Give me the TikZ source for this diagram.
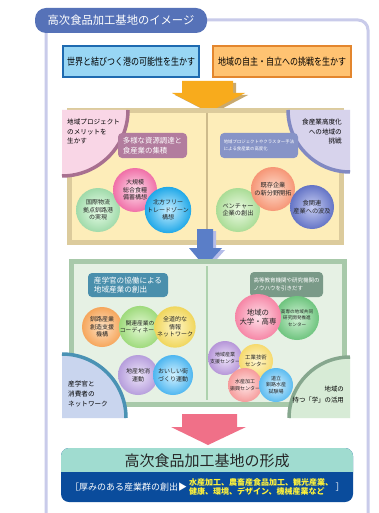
\documentclass[tikz,border=0pt]{standalone}
\usepackage{fontspec}
\setmainfont{Noto Sans CJK JP}
\usetikzlibrary{shadings}
\definecolor{framec}{HTML}{C9CBEA}
\definecolor{tabblue}{HTML}{5672B8}
\definecolor{boxblue}{HTML}{1E6AB0}
\definecolor{lightblue}{HTML}{98D6F4}
\definecolor{boxor}{HTML}{E3862E}
\definecolor{lightor}{HTML}{FFC372}
\definecolor{arrowor}{HTML}{F8AB1C}
\definecolor{arrowsh}{HTML}{C9A96E}
\definecolor{tanc}{HTML}{DCCB9C}
\definecolor{creamc}{HTML}{FDEDB9}
\definecolor{divtan}{HTML}{CDBB8C}
\definecolor{pinkq}{HTML}{F9D6E6}
\definecolor{mauve}{HTML}{A87090}
\definecolor{mauvelbl}{HTML}{B27C9E}
\definecolor{lavq}{HTML}{D7D3EC}
\definecolor{lavline}{HTML}{8189C2}
\definecolor{bluegrey}{HTML}{8794C7}
\definecolor{arrowbl}{HTML}{5A7EC8}
\definecolor{arrowblsh}{HTML}{B4BCE8}
\definecolor{greenborder}{HTML}{A8C9AA}
\definecolor{greenfill}{HTML}{E6F1E4}
\definecolor{divgreen}{HTML}{AED2AE}
\definecolor{tealbl}{HTML}{4A8FAC}
\definecolor{greygreen}{HTML}{7A9A88}
\definecolor{blueq}{HTML}{C9D5EE}
\definecolor{blueqline}{HTML}{4A92B4}
\definecolor{greenq}{HTML}{D7EBD6}
\definecolor{greenqline}{HTML}{86A78E}
\definecolor{arrowpk}{HTML}{F07088}
\definecolor{tealtop}{HTML}{A0DCD0}
\definecolor{darkblue}{HTML}{0A4C9C}
\definecolor{yellowtxt}{HTML}{FFF23A}
\tikzset{
  bub/.style={circle, inner sep=0pt, minimum size=#1, align=center, text=black!85},
  bub/.default=44pt,
  lbl/.style={rounded corners=4pt, text=white, align=left, inner sep=0pt},
  corner/.style={inner sep=0pt, text=black},
  blockarrow/.style={draw=none}
}
\begin{document}
\begin{tikzpicture}[x=1pt,y=-1pt]
\useasboundingbox (0,0) rectangle (378,513);
\fill[white] (0,0) rectangle (378,513);
% outer frame
\draw[framec, line width=3pt, rounded corners=10pt] (46,20) rectangle (368,545);
% title tab
\node[fill=tabblue, rounded corners=11pt, minimum width=172pt, minimum height=25pt, text=white, font=\fontsize{11.3}{13}\selectfont] (tab) at (121,20.5) {高次食品加工基地のイメージ};
% top boxes
\node[draw=boxblue, line width=2pt, fill=lightblue, minimum width=136pt, minimum height=31pt, inner sep=0pt] (b1) at (131,61.5) {\scalebox{0.8}[1]{\fontsize{10}{12}\selectfont 世界と結びつく港の可能性を生かす}};
\node[draw=boxor, line width=2pt, fill=lightor, minimum width=138pt, minimum height=31pt, inner sep=0pt] (b2) at (282,61.5) {\scalebox{0.8}[1]{\fontsize{10}{12}\selectfont 地域の自主・自立への挑戦を生かす}};
% orange arrow
\fill[arrowsh] (185,83) -- (236,83) -- (236,95) -- (248,95) -- (212,114) -- (175,95) -- (185,95) -- cycle;
\fill[arrowor] (182,81) -- (233,81) -- (233,93) -- (245,93) -- (209,112) -- (172,93) -- (182,93) -- cycle;
% top panel
\node[draw=tanc, line width=5pt, fill=creamc, minimum width=272pt, minimum height=132pt, inner sep=0pt] (p1) at (205.75,176.75) {};
\draw[divtan, line width=1.2pt] (207,113) -- (207,241);
% pink quarter
\fill[pinkq] (62,110) -- (128,110) arc[start angle=0, end angle=90, radius=66] -- cycle;
\draw[mauve, line width=3.5pt] (128,110) arc[start angle=0, end angle=90, radius=66];
\node[corner, align=left, anchor=north west, font=\fontsize{6.6}{9.5}\selectfont] (c1) at (67,119) {地域プロジェクト\\のメリットを\\生かす};
% lavender quarter
\fill[lavq] (288,110) arc[start angle=180, end angle=90, radius=62] -- (350,110) -- cycle;
\draw[lavline, line width=3.5pt] (288,110) arc[start angle=180, end angle=90, radius=62];
\node[corner, align=right, anchor=north east, font=\fontsize{6.6}{9.5}\selectfont] (c2) at (342,119) {食産業高度化\\への地域の\\挑戦};
% labels top
\node[lbl, fill=mauvelbl, minimum width=69pt, minimum height=25pt, font=\fontsize{7.4}{9.5}\selectfont] (l1) at (152.5,145.5) {多様な資源調達と\\食産業の集積};
\node[lbl, fill=bluegrey, minimum width=78pt, minimum height=25pt, font=\fontsize{4.4}{6.5}\selectfont] (l2) at (259,145.5) {地域プロジェクトやクラスター手法\\による食産業の高度化};
% circles top-left
\node[bub=44pt, shade, inner color=green!8!white, outer color={rgb,255:red,160;green,218;blue,170}, font=\fontsize{6}{7.5}\selectfont] (t1) at (98,210) {国際物流\\拠点釧路港\\の実現};
\node[bub=44pt, shade, inner color={rgb,255:red,253;green,224;blue,236}, outer color={rgb,255:red,240;green,112;blue,168}, font=\fontsize{6}{7.5}\selectfont] (t2) at (135,190) {大規模\\総合食糧\\備蓄構想};
\node[bub=44pt, shade, inner color={rgb,255:red,200;green,238;blue,255}, outer color={rgb,255:red,32;green,168;blue,232}, font=\fontsize{6}{7.5}\selectfont] (t3) at (168,210) {北方フリー\\トレードゾーン\\構想};
% circles top-right
\node[bub=44pt, shade, inner color={rgb,255:red,236;green,250;blue,228}, outer color={rgb,255:red,170;green,220;blue,150}, font=\fontsize{6.2}{7.5}\selectfont] (t4) at (238,210) {ベンチャー\\企業の創出};
\node[bub=44pt, shade, inner color={rgb,255:red,253;green,220;blue,204}, outer color={rgb,255:red,246;green,150;blue,118}, font=\fontsize{6.2}{7.5}\selectfont] (t5) at (273,189) {既存企業\\の新分野開拓};
\node[bub=44pt, shade, inner color={rgb,255:red,200;green,206;blue,242}, outer color={rgb,255:red,100;green,116;blue,198}, font=\fontsize{6.2}{7.5}\selectfont] (t6) at (312,207) {食関連\\産業への波及};
% blue arrow
\fill[arrowblsh] (200,231) -- (216,231) -- (216,250) -- (225,250) -- (208,269) -- (192,250) -- (200,250) -- cycle;
\fill[arrowbl] (197,229) -- (213,229) -- (213,248) -- (222,248) -- (205,267) -- (189,248) -- (197,248) -- cycle;
% green panel
\node[draw=greenborder, line width=5pt, fill=greenfill, minimum width=273pt, minimum height=143pt, inner sep=0pt] (p2) at (208,333) {};
\draw[divgreen, line width=1.2pt] (207,266) -- (207,400);
% labels bottom
\node[lbl, fill=tealbl, minimum width=80pt, minimum height=24pt, font=\fontsize{7.6}{9.5}\selectfont] (l3) at (128,285) {産学官の協働による\\地域産業の創出};
\node[lbl, fill=greygreen, minimum width=73pt, minimum height=25pt, font=\fontsize{5.5}{7.5}\selectfont] (l4) at (286.5,284.5) {高等教育機関や研究機関の\\ノウハウを引きだす};
% circles bottom-left
\node[bub=40pt, shade, inner color={rgb,255:red,253;green,226;blue,196}, outer color={rgb,255:red,246;green,166;blue,92}, font=\fontsize{6}{7.5}\selectfont] (m1) at (102,327) {釧路産業\\創造支援\\機構};
\node[bub=40pt, shade, inner color={rgb,255:red,228;green,248;blue,212}, outer color={rgb,255:red,158;green,218;blue,124}, font=\fontsize{5.8}{7.5}\selectfont] (m2) at (140,327) {関連産業の\\コーディネート};
\node[bub=40pt, shade, inner color={rgb,255:red,255;green,246;blue,200}, outer color={rgb,255:red,240;green,214;blue,92}, font=\fontsize{6}{7.5}\selectfont] (m3) at (175,327) {全道的な\\情報\\ネットワーク};
\node[bub=40pt, shade, inner color={rgb,255:red,238;green,230;blue,250}, outer color={rgb,255:red,182;green,158;blue,220}, font=\fontsize{6}{7.5}\selectfont] (m4) at (138,375) {地産地消\\運動};
\node[bub=40pt, shade, inner color={rgb,255:red,212;green,242;blue,255}, outer color={rgb,255:red,78;green,182;blue,240}, font=\fontsize{6}{7.5}\selectfont] (m5) at (173,375) {おいしい街\\づくり運動};
% circles bottom-right
\node[bub=44pt, shade, inner color={rgb,255:red,210;green,242;blue,214}, outer color={rgb,255:red,110;green,196;blue,126}, font=\fontsize{4.6}{6.2}\selectfont] (n2) at (297,318) {高専の地域共同\\研究開発推進\\センター};
\node[bub=46pt, shade, inner color={rgb,255:red,253;green,226;blue,234}, outer color={rgb,255:red,246;green,134;blue,166}, font=\fontsize{7.4}{9}\selectfont] (n1) at (258,317) {地域の\\大学・高専};
\node[bub=34pt, shade, inner color={rgb,255:red,238;green,228;blue,250}, outer color={rgb,255:red,182;green,150;blue,216}, font=\fontsize{5}{6.5}\selectfont] (n3) at (225,358) {地域産業\\支援センター};
\node[bub=34pt, shade, inner color={rgb,255:red,255;green,246;blue,206}, outer color={rgb,255:red,246;green,218;blue,110}, font=\fontsize{5.4}{6.8}\selectfont] (n4) at (256,361) {工業技術\\センター};
\node[bub=34pt, shade, inner color={rgb,255:red,254;green,228;blue,228}, outer color={rgb,255:red,246;green,156;blue,156}, font=\fontsize{5}{6.5}\selectfont] (n5) at (245,385) {水産加工\\振興センター};
\node[bub=34pt, shade, inner color={rgb,255:red,214;green,240;blue,255}, outer color={rgb,255:red,92;green,188;blue,240}, font=\fontsize{5}{6.3}\selectfont] (n6) at (276,385) {道立\\釧路水産\\試験場};
% blue quarter bottom-left
\fill[blueq] (62,354) arc[start angle=270, end angle=360, radius=64] -- (62,418) -- cycle;
\draw[blueqline, line width=3.5pt] (62,354) arc[start angle=270, end angle=360, radius=64];
\node[corner, align=left, anchor=north west, font=\fontsize{6.6}{9.8}\selectfont] (c3) at (68,381) {産学官と\\消費者の\\ネットワーク};
% green quarter bottom-right
\fill[greenq] (289,418) arc[start angle=180, end angle=270, radius=61] -- (350,418) -- cycle;
\draw[greenqline, line width=3.5pt] (289,418) arc[start angle=180, end angle=270, radius=61];
\node[corner, align=right, anchor=north east, font=\fontsize{6.4}{11}\selectfont] (c4) at (344,386) {地域の\\持つ「学」の活用};
% pink arrow
\fill[arrowpk] (182,414) -- (237,414) -- (237,427) -- (246,427) -- (208,445) -- (171,427) -- (182,427) -- cycle;
% bottom box
\fill[darkblue, rounded corners=8pt] (61,448) rectangle (353,502);
\fill[tealtop, rounded corners=8pt] (61,448) rectangle (353,482);
\fill[darkblue] (61,472) rectangle (353,490);
\node[inner sep=0pt, font=\fontsize{15}{17}\selectfont, text=black!85] (ttl) at (207,461) {高次食品加工基地の形成};
\node[inner sep=0pt, anchor=west, text=white, font=\fontsize{9}{11}\selectfont] (bl) at (70,487) {［厚みのある産業群の創出▶};
\node[inner sep=0pt, anchor=west, align=left, text=yellowtxt, font=\bfseries\fontsize{8}{9}\selectfont] (yl) at (189,487) {水産加工、農畜産食品加工、観光産業、\\健康、環境、デザイン、機械産業など};
\node[inner sep=0pt, text=white, font=\fontsize{9}{11}\selectfont] (br) at (340,487) {］};
\end{tikzpicture}
\end{document}
